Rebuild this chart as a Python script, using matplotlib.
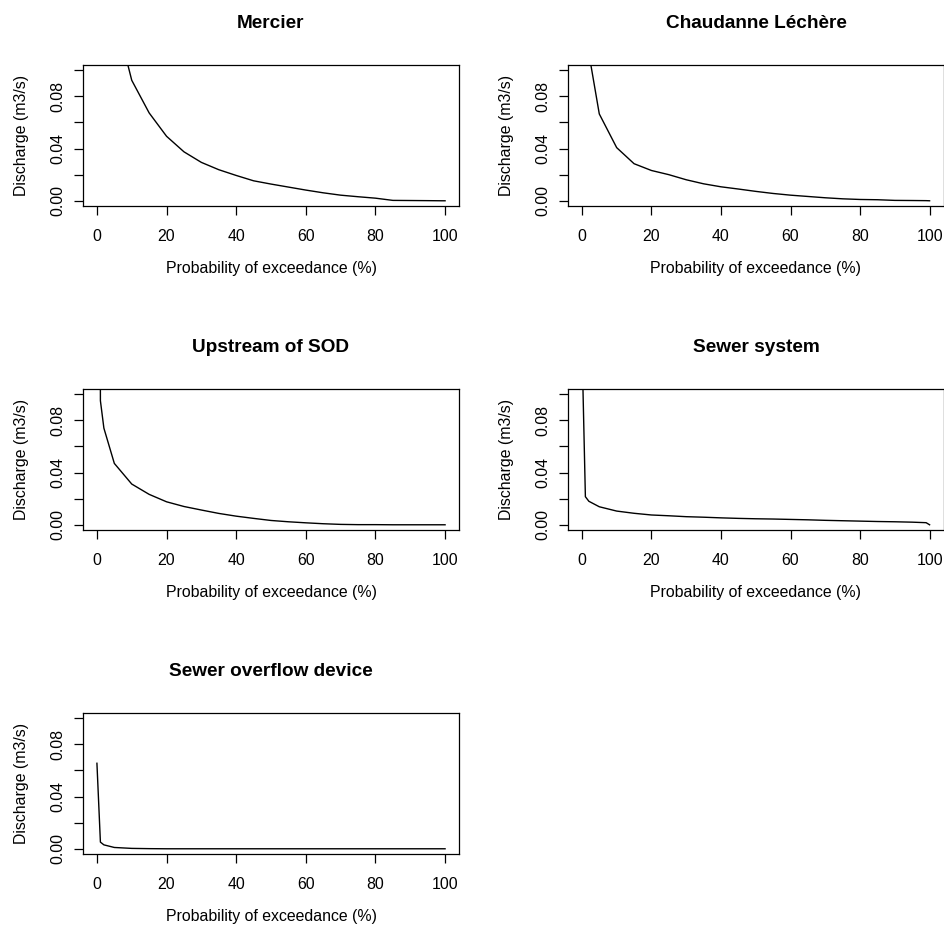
import numpy as np
import matplotlib
matplotlib.use("Agg")
import matplotlib.pyplot as plt

plt.rcParams['font.family'] = ['Liberation Sans', 'DejaVu Sans']

# --- Flow duration curves ---
prob = [0, 1, 2, 5, 10, 15, 20, 25, 30, 35, 40, 45, 50, 55, 60, 65, 70,
        75, 80, 85, 90, 95, 99, 100]

q_mercier = [0.60, 0.35, 0.25, 0.145, 0.0923, 0.0673, 0.0494, 0.0375,
             0.0294, 0.0238, 0.0194, 0.0153, 0.0128, 0.0105, 0.0082, 0.0061,
             0.0043, 0.0031, 0.0020, 0.0003, 0.0002, 0.0001, 0.0, 0.0]
q_chaudanne = [0.45, 0.20, 0.113, 0.0665, 0.0407, 0.0284, 0.0232, 0.0200,
               0.0161, 0.0130, 0.0107, 0.0090, 0.0072, 0.0056, 0.0043, 0.0033,
               0.0023, 0.0015, 0.0010, 0.0008, 0.0003, 0.0002, 0.0001, 0.0]
q_upstream = [1.5, 0.095, 0.074, 0.047, 0.0312, 0.0233, 0.0176, 0.0140,
              0.0113, 0.0087, 0.0066, 0.0049, 0.0033, 0.0023, 0.0015, 0.0008,
              0.0003, 0.0001, 0.0001, 0.0, 0.0, 0.0, 0.0, 0.0]
q_sewer = [0.14, 0.0215, 0.0180, 0.0138, 0.0105, 0.0088, 0.0075, 0.0069,
           0.0062, 0.0058, 0.0053, 0.0049, 0.0046, 0.0044, 0.0041, 0.0038,
           0.0034, 0.0031, 0.0028, 0.0025, 0.0023, 0.0020, 0.0016, 0.0]
q_overflow = [0.0655, 0.0051, 0.0030, 0.0010, 0.0003, 0.0001, 0.0, 0.0,
              0.0, 0.0, 0.0, 0.0, 0.0, 0.0, 0.0, 0.0, 0.0, 0.0, 0.0, 0.0,
              0.0, 0.0, 0.0, 0.0]

titles = ["Mercier", "Chaudanne Léchère", "Upstream of SOD", "Sewer system",
          "Sewer overflow device"]
series = [q_mercier, q_chaudanne, q_upstream, q_sewer, q_overflow]

x_ticks = [0, 20, 40, 60, 80, 100]
y_ticks = [0.00, 0.02, 0.04, 0.06, 0.08, 0.10]
y_tick_labels = ["0.00", "", "0.04", "", "0.08", ""]

# --- Layout (pixel boxes, R mfrow-like) ---
W, H = 944, 927
fig = plt.figure(figsize=(W / 100, H / 100), dpi=100)

box_w, box_h = 376, 141
lefts = [83, 568]
tops = [65, 389, 713]

for i, (title, q) in enumerate(zip(titles, series)):
    row, col = divmod(i, 2)
    left = lefts[col]
    top = tops[row]
    w = box_w if col == 0 else W - left - 0.5
    ax = fig.add_axes([left / W, 1 - (top + box_h) / H, w / W, box_h / H])

    ax.plot(prob, q, color='black', linewidth=1.0)

    ax.set_xlim(-4, 104)
    ax.set_ylim(-0.004, 0.104)
    ax.set_xticks(x_ticks)
    ax.set_xticklabels([str(t) for t in x_ticks])
    ax.set_yticks(y_ticks)
    ax.set_yticklabels(y_tick_labels)

    ax.tick_params(axis='both', direction='out', length=6.5, width=0.9,
                   labelsize=11.4, color='black')
    ax.tick_params(axis='x', pad=10)
    ax.tick_params(axis='y', pad=6.5)
    for lab in ax.get_yticklabels():
        lab.set_rotation(90)
        lab.set_va('center')

    for sp in ax.spines.values():
        sp.set_linewidth(0.9)

    # axis titles and main title, offsets in pixels from the box top
    ax.text(0.5, (box_h - 207.5) / box_h, "Probability of exceedance (%)",
            transform=ax.transAxes, ha='center', va='baseline', fontsize=11.4)
    ax.text((21.5 - 83) / w, 0.5, "Discharge (m3/s)", rotation=90,
            transform=ax.transAxes, ha='center', va='center', fontsize=11.4)
    ax.text(0.5 * box_w / w, (box_h + 37.0) / box_h, title,
            transform=ax.transAxes, ha='center', va='baseline',
            fontsize=13.7, fontweight='bold')

plt.savefig("out.png", dpi=100)
